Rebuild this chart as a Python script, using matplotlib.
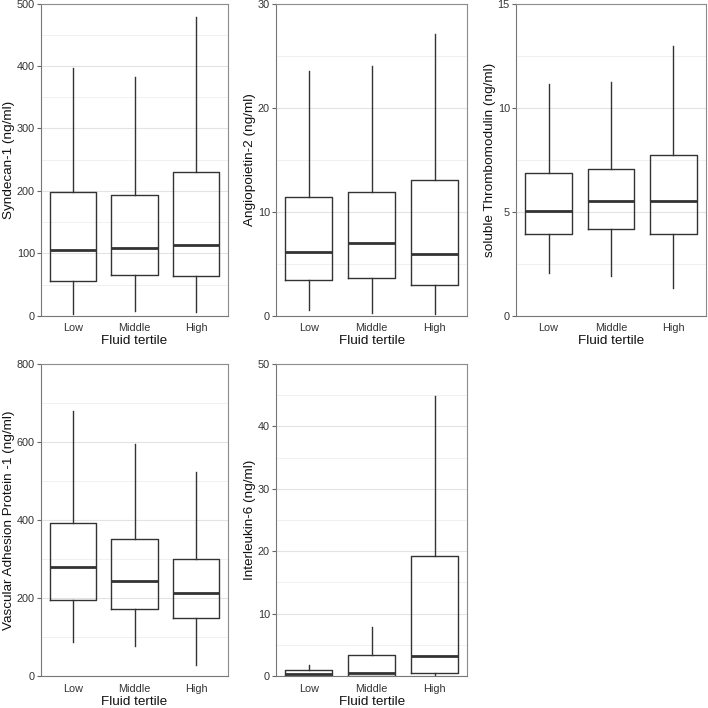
import numpy as np
import matplotlib.pyplot as plt
from matplotlib.ticker import MultipleLocator

plt.rcParams['font.family'] = ['Liberation Sans', 'DejaVu Sans']

groups = ["Low", "Middle", "High"]

# five-number summaries per group: whisker low, Q1, median, Q3, whisker high
syndecan = [[2.7, 56, 105, 198, 396],
            [6.9, 65, 108, 193, 383],
            [5.3, 64, 114, 230, 478]]
angiopoietin = [[0.6, 3.4, 6.1, 11.45, 23.5],
                [0.3, 3.65, 6.95, 11.85, 24.0],
                [0.15, 3.0, 5.9, 13.0, 27.1]]
thrombomodulin = [[2.05, 3.95, 5.03, 6.87, 11.15],
                  [1.93, 4.18, 5.5, 7.04, 11.22],
                  [1.32, 3.91, 5.53, 7.7, 12.98]]
vap1 = [[88, 196, 280, 392, 680],
        [77, 171, 245, 352, 596],
        [28, 148, 214, 301, 524]]
interleukin = [[0.0, 0.1, 0.3, 0.98, 1.8],
               [0.0, 0.1, 0.5, 3.42, 7.8],
               [0.1, 0.53, 3.15, 19.3, 44.8]]

panels = [
    (syndecan, "Syndecan-1 (ng/ml)", 500, 100),
    (angiopoietin, "Angiopoietin-2 (ng/ml)", 30, 10),
    (thrombomodulin, "soluble Thrombomodulin (ng/ml)", 15, 5),
    (vap1, "Vascular Adhesion Protein -1 (ng/ml)", 800, 200),
    (interleukin, "Interleukin-6 (ng/ml)", 50, 10),
]

# axes rectangles in figure fractions
rects = [
    [0.058, 0.554, 0.264, 0.441],
    [0.390, 0.554, 0.270, 0.441],
    [0.729, 0.554, 0.268, 0.441],
    [0.058, 0.045, 0.264, 0.441],
    [0.390, 0.045, 0.270, 0.441],
]

line_col = "#333333"
fig = plt.figure(figsize=(7.08, 7.08), dpi=100)

for (vals, ylab, ymax, step), rect in zip(panels, rects):
    ax = fig.add_axes(rect)
    stats = []
    for g, v in zip(groups, vals):
        stats.append(dict(label=g, whislo=v[0], q1=v[1], med=v[2], q3=v[3], whishi=v[4]))
    ax.bxp(stats, positions=[1, 2, 3], widths=0.75, showfliers=False, showcaps=False,
           boxprops=dict(color=line_col, linewidth=1.0),
           whiskerprops=dict(color=line_col, linewidth=1.0),
           medianprops=dict(color=line_col, linewidth=2.0, solid_capstyle='butt'))
    ax.set_xlim(0.48, 3.52)
    ax.set_ylim(0, ymax)
    ax.yaxis.set_major_locator(MultipleLocator(step))
    ax.yaxis.set_minor_locator(MultipleLocator(step / 2))
    ax.grid(axis='y', which='major', color='#e3e3e3', linewidth=0.8)
    ax.grid(axis='y', which='minor', color='#eeeeee', linewidth=0.6)
    ax.set_axisbelow(True)
    ax.tick_params(axis='y', which='major', length=3, color='#666666', labelsize=7.8,
                   labelcolor='#333333', pad=1.5)
    ax.tick_params(axis='y', which='minor', length=0)
    ax.tick_params(axis='x', length=0, labelsize=7.8, labelcolor='#333333', pad=5.5)
    ax.set_xlabel("Fluid tertile", fontsize=9.7, color='#111111', labelpad=1.5)
    ax.set_ylabel(ylab, fontsize=9.7, color='#111111', labelpad=1.5)
    for s in ['left', 'bottom']:
        ax.spines[s].set_color('#777777')
        ax.spines[s].set_linewidth(0.8)
    for s in ['top', 'right']:
        ax.spines[s].set_color('#8c8c8c')
        ax.spines[s].set_linewidth(0.8)

fig.savefig("out.png", dpi=100)
